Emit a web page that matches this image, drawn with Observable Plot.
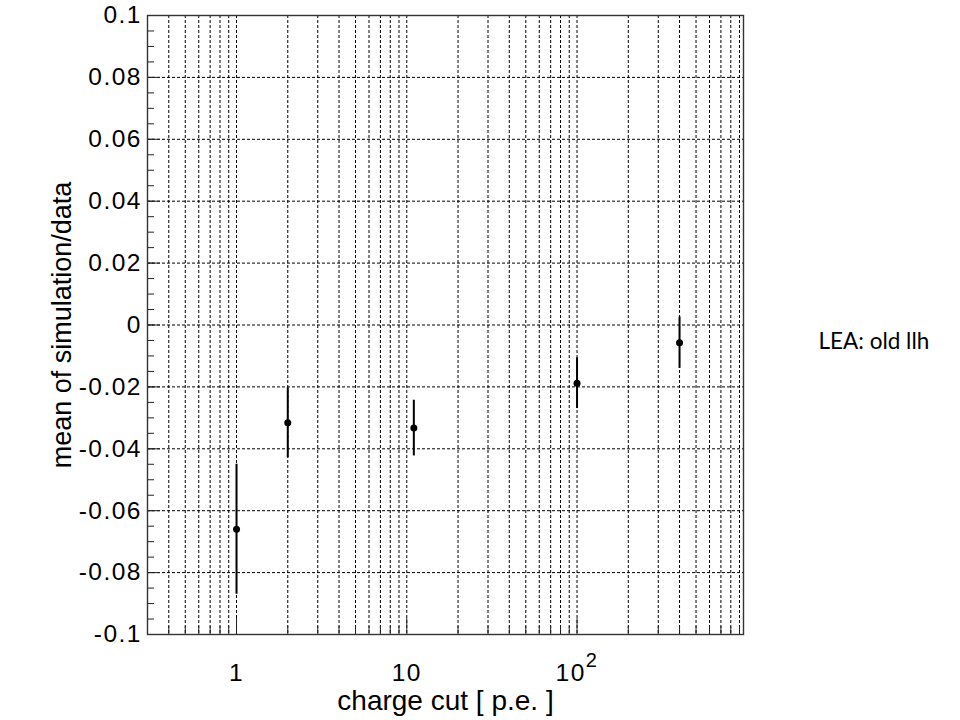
<!DOCTYPE html>
<html>
<head>
<meta charset="utf-8">
<script src="https://cdn.jsdelivr.net/npm/d3@7"></script>
<script src="https://cdn.jsdelivr.net/npm/@observablehq/plot@0.6"></script>
<style>
  html, body { margin: 0; padding: 0; background: #fff; }
</style>
</head>
<body>
<div id="chart"></div>
<script>
// ---- data ----
const chargeCut = [1, 2, 11, 100, 400];
const meanRatio = [-0.066, -0.0316, -0.0333, -0.0188, -0.0057];
const meanError = [0.021, 0.0113, 0.009, 0.0082, 0.0083];

// ---- axis ticks and labels ----
const yTicks = [-0.1, -0.08, -0.06, -0.04, -0.02, 0, 0.02, 0.04, 0.06, 0.08, 0.1];
const yTickLabels = ["-0.1", "-0.08", "-0.06", "-0.04", "-0.02", "0", "0.02", "0.04", "0.06", "0.08", "0.1"];
const yGridTicks = [-0.08, -0.06, -0.04, -0.02, 0, 0.02, 0.04, 0.06, 0.08];
const xTicks = [1, 10, 100];
const xTickLabels = ["1", "10", "10^2"];
const xMinorTicks = [0.4, 0.5, 0.6, 0.7, 0.8, 0.9,
  2, 3, 4, 5, 6, 7, 8, 9,
  20, 30, 40, 50, 60, 70, 80, 90,
  200, 300, 400, 500, 600, 700, 800, 900];
const yMinorTicks = d3.range(-20, 21).map(i => +(i * 0.005).toFixed(3));
const xDomain = [0.3, 950];
const yDomain = [-0.1, 0.1];

const xTitle = "charge cut [ p.e. ]";
const yTitle = "mean of simulation/data";
const note = "LEA: old llh";

const rows = chargeCut.map((c, i) => ({c, m: meanRatio[i], e: meanError[i]}));
const xGrid = xMinorTicks.concat(xTicks);

const gridStyle = {stroke: "#000", strokeWidth: 1, strokeDasharray: "3,2", strokeOpacity: 1};

const plot = Plot.plot({
  width: 960,
  height: 720,
  marginLeft: 147,
  marginRight: 217,
  marginTop: 15,
  marginBottom: 86,
  style: {fontFamily: "'Liberation Sans', Arial, Helvetica, sans-serif", fontSize: "25px", color: "#000", background: "#fff"},
  x: {type: "log", domain: xDomain},
  y: {domain: yDomain},
  marks: [
    Plot.ruleX(xGrid, {x: d => d, ...gridStyle}),
    Plot.ruleY(yGridTicks, {y: d => d, ...gridStyle}),
    // inside ticks
    Plot.axisY({ticks: yMinorTicks, tickSize: -7, fill: "none", label: null, stroke: "#222"}),
    Plot.axisY({ticks: yTicks, tickSize: -13, fill: "none", label: null, stroke: "#222"}),
    Plot.axisX({ticks: xMinorTicks, tickSize: -8, fill: "none", label: null, stroke: "#222"}),
    Plot.axisX({ticks: xTicks, tickSize: -16, fill: "none", label: null, stroke: "#222"}),
    // tick labels
    Plot.axisY({ticks: yTicks, tickSize: 0, tickPadding: 5.5, stroke: "none", label: null,
      tickFormat: d => yTickLabels[yTicks.indexOf(d)], fontSize: 24.5, fill: "#000"}),
    Plot.axisX({ticks: xTicks, tickSize: 0, tickPadding: 29, stroke: "none", label: null,
      tickFormat: d => xTickLabels[xTicks.indexOf(d)], fontSize: 24.5, fill: "#000"}),
    // data
    Plot.ruleX(rows, {x: "c", y1: d => d.m - d.e, y2: d => d.m + d.e, stroke: "#000", strokeWidth: 2}),
    Plot.dot(rows, {x: "c", y: "m", r: 3.5, fill: "#000"}),
    Plot.frame({stroke: "#333", strokeWidth: 1.4}),
    // titles
    Plot.text([yTitle], {frameAnchor: "left", dx: -85, rotate: -90, textAnchor: "middle", fontSize: 27, text: d => d, fill: "#000"}),
    Plot.text([xTitle], {frameAnchor: "bottom", dy: 75, lineAnchor: "bottom", textAnchor: "middle", fontSize: 28, text: d => d, fill: "#000"}),
    Plot.text([note], {frameAnchor: "right", dx: 75, dy: 17, textAnchor: "start", fontSize: 22.5,
      fontFamily: "Lato, 'Open Sans', sans-serif", text: d => d, fill: "#000"})
  ]
});

// wider tick labels, like the reference's rendering
d3.select(plot).selectAll('g[aria-label="y-axis tick label"] text, g[aria-label="x-axis tick label"] text')
  .style("letter-spacing", "1.5px");

// superscript for 10^2
d3.select(plot).selectAll("text").each(function() {
  const t = d3.select(this);
  if (t.text() === "10^2") {
    t.text("");
    t.append("tspan").text("10");
    t.append("tspan").attr("dy", "-0.7em").attr("font-size", "20px").text("2");
  }
});

document.getElementById("chart").appendChild(plot);
</script>
</body>
</html>
